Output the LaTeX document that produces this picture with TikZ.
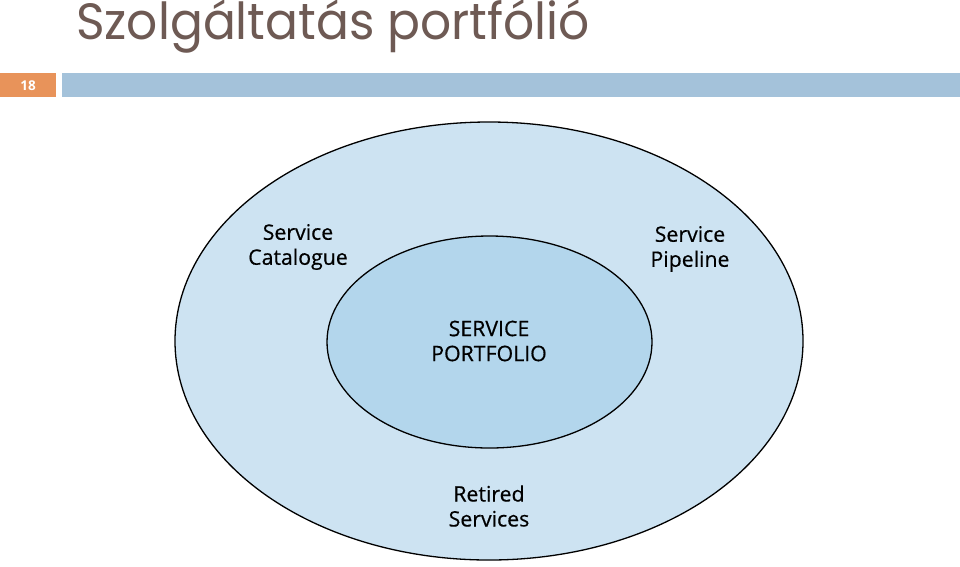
\documentclass[tikz,border=0pt]{standalone}
\usepackage{fontspec}
\setmainfont{Open Sans}
\newfontfamily\titlefont{Poppins}
\newfontfamily\lblfont[FakeBold=0.5]{Open Sans}
\definecolor{titlecol}{HTML}{6E5A54}
\definecolor{numorange}{HTML}{E8935A}
\definecolor{barblue}{HTML}{A4C2DA}
\definecolor{outerfill}{HTML}{CDE3F2}
\definecolor{innerfill}{HTML}{B3D6EC}
\tikzset{
  ring/.style={draw=black, line width=1.3pt},
  lbl/.style={align=center, font=\lblfont\fontsize{21.3}{25}\selectfont, text=black, inner sep=0pt}
}
\begin{document}
\begin{tikzpicture}[x=1pt,y=-1pt]
\useasboundingbox (0,0) rectangle (960,566);
\fill[white] (0,0) rectangle (960,566);
% title
\node[anchor=base west, inner sep=0pt, text=titlecol, font=\titlefont\fontsize{51}{51}\selectfont] (title) at (76,39) {\scalebox{0.955}[1]{Szolgáltatás portfólió}};
% header bar
\fill[numorange] (0,73.3) rectangle (56,97.3);
\node[text=white, font=\bfseries\fontsize{13.5}{13.5}\selectfont, inner sep=0pt] (num) at (28,85.5) {18};
\fill[barblue] (62,73.3) rectangle (960,97.3);
% ellipses
\draw[ring, fill=outerfill] (489,341) ellipse [x radius=314, y radius=219];
\draw[ring, fill=innerfill] (489.5,342) ellipse [x radius=162.5, y radius=106];
% labels
\node[lbl] (cat) at (298,247) {Service\\Catalogue};
\node[lbl] (pipe) at (690,249) {Service\\Pipeline};
\node[lbl] (port) at (489,341) {SERVICE\\PORTFOLIO};
\node[lbl] (ret) at (489,506) {Retired\\Services};
\end{tikzpicture}
\end{document}
